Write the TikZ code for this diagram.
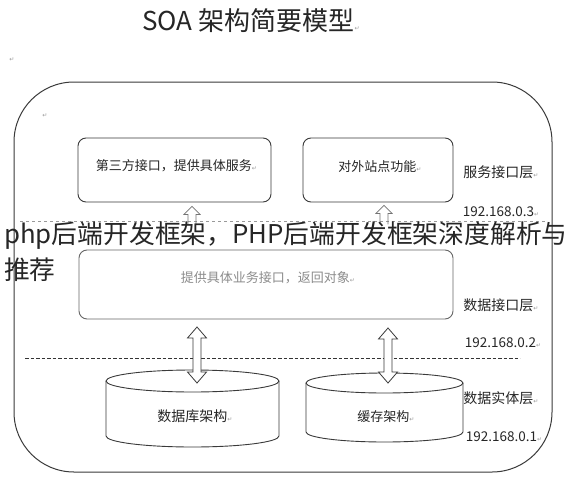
\documentclass[tikz,border=0pt]{standalone}
\usepackage{fontspec}
\usetikzlibrary{calc}
\newfontfamily\cjk{Noto Sans CJK SC}
\newfontfamily\dv{DejaVu Sans}
\definecolor{edge}{HTML}{3A3A3A}
\definecolor{midtext}{HTML}{8C8C8C}
\definecolor{markgray}{HTML}{9A9A9A}
\newcommand\pmark{{\dv\fontsize{6}{6}\selectfont\textcolor{markgray}{↵}}}
\newcommand\dblarr[2]{\draw[blockarrow] let \p1=(#1), \p2=(#2) in
  (\x1,\y1) -- ++(9.5pt,-11pt) -- ++(-5.5pt,0pt) -- (\x1+4pt,\y2+11pt) -- ++(5.5pt,0pt)
  -- (\x2,\y2) -- ++(-9.5pt,11pt) -- ++(5.5pt,0pt) -- (\x1-4pt,\y1-11pt) -- ++(-5.5pt,0pt) -- cycle;}
\newcommand\uparr[2]{\draw[uparrow] let \p1=(#1), \p2=(#2) in
  (\x1-4pt,\y2) -- (\x1-4pt,\y1-8pt) -- ++(-4pt,0pt) -- (\x1,\y1) -- ++(8pt,-8pt)
  -- ++(-4pt,0pt) -- (\x1+4pt,\y2);}
\begin{document}
\begin{tikzpicture}[x=1pt,y=-1pt,
  frame/.style={draw=edge,line width=1pt,rounded corners=60pt,inner sep=0pt},
  box/.style={draw=edge,line width=0.9pt,rounded corners=8pt,fill=white,inner sep=0pt},
  midbox/.style={draw=black!60,line width=0.9pt,rounded corners=8pt,fill=white,inner sep=0pt},
  lbl/.style={font=\cjk\fontsize{13}{15}\selectfont,text=black!85,inner sep=0pt},
  side/.style={font=\cjk\fontsize{14}{16}\selectfont,text=black!85,inner sep=0pt},
  ipl/.style={font=\cjk\fontsize{13.5}{16}\selectfont,text=black!85,inner sep=0pt},
  cyl/.style={draw=edge,line width=0.9pt},
  blockarrow/.style={draw=edge,line width=0.8pt,fill=white},
  uparrow/.style={draw=black!55,line width=0.7pt},
  wm/.style={font=\cjk\fontsize{25.8}{30}\selectfont,text=black!85,inner sep=0pt,anchor=west}]
\useasboundingbox (0,0) rectangle (573,490);
\fill[white] (0,0) rectangle (573,490);

% title and stray paragraph marks
\node[font=\cjk\fontsize{26}{30}\selectfont,text=black!85,inner sep=0pt] (title) at (251,21) {SOA 架构简要模型\pmark};
\node[inner sep=0pt] (pm1) at (12,60) {\pmark};
\node[inner sep=0pt] (pm2) at (45,116) {\pmark};

% outer frame
\node[frame,minimum width=538pt,minimum height=390pt] (frame) at (283,277) {};

% service interface layer
\node[box,minimum width=193pt,minimum height=64pt] (svc1) at (174.5,170) {};
\node[lbl] (svc1t) at (176.5,166) {第三方接口，提供具体服务\pmark};
\node[box,minimum width=150pt,minimum height=64pt] (svc2) at (378,170) {};
\node[lbl] (svc2t) at (380,167) {对外站点功能\pmark};

% light dashed separator
\draw[dashed,black!40,line width=0.5pt] (20,221) -- (545,221);

% up arrows
\coordinate (u1t) at ($(svc1.south)+(17.5,4)$);
\coordinate (u1b) at ($(svc1.south)+(17.5,22)$);
\coordinate (u2t) at ($(svc2.south)+(6,3)$);
\coordinate (u2b) at ($(svc2.south)+(6,22)$);
\uparr{u1t}{u1b}
\uparr{u2t}{u2b}

% data interface layer
\node[midbox,minimum width=374pt,minimum height=69pt] (mid) at (266,284.5) {};
\node[lbl,text=midtext] (midt) at (268,278) {提供具体业务接口，返回对象\pmark};

% dark dashed separator
\draw[dash pattern=on 3.5pt off 2pt,black!80,line width=0.9pt] (25,358) -- (520,358);

% cylinders
\fill[white] (106,381) -- (106,436) arc[start angle=180,end angle=0,x radius=86.5,y radius=11] -- (279,381) -- cycle;
\draw[cyl] (106,381) -- (106,436) arc[start angle=180,end angle=0,x radius=86.5,y radius=11] -- (279,381);
\draw[cyl,fill=white] (192.5,381) ellipse[x radius=86.5,y radius=11];
\node[lbl,font=\cjk\fontsize{14}{16}\selectfont] (db) at (195,416) {数据库架构\pmark};

\fill[white] (306,383) -- (306,432) arc[start angle=180,end angle=0,x radius=78.5,y radius=10] -- (463,383) -- cycle;
\draw[cyl] (306,383) -- (306,432) arc[start angle=180,end angle=0,x radius=78.5,y radius=10] -- (463,383);
\draw[cyl,fill=white] (384.5,383) ellipse[x radius=78.5,y radius=10];
\node[lbl] (cache) at (386,417) {缓存架构\pmark};

% double arrows
\coordinate (d1t) at (197,327);
\coordinate (d1b) at (197,383);
\coordinate (d2t) at (388,328);
\coordinate (d2b) at (388,383);
\dblarr{d1t}{d1b}
\dblarr{d2t}{d2b}

% side labels
\node[side] (l1) at (501,172) {服务接口层\pmark};
\node[ipl] (ip3) at (501,212) {192.168.0.3\pmark};
\node[side] (l2) at (501,305) {数据接口层\pmark};
\node[ipl] (ip2) at (503,343) {192.168.0.2\pmark};
\node[side] (l3) at (501,398) {数据实体层\pmark};
\node[ipl] (ip1) at (504,437) {192.168.0.1\pmark};

% overlay caption
\node[wm] (wm1) at (4,236) {php后端开发框架，PHP后端开发框架深度解析与};
\node[wm] (wm2) at (4,270) {推荐};
\end{tikzpicture}
\end{document}
